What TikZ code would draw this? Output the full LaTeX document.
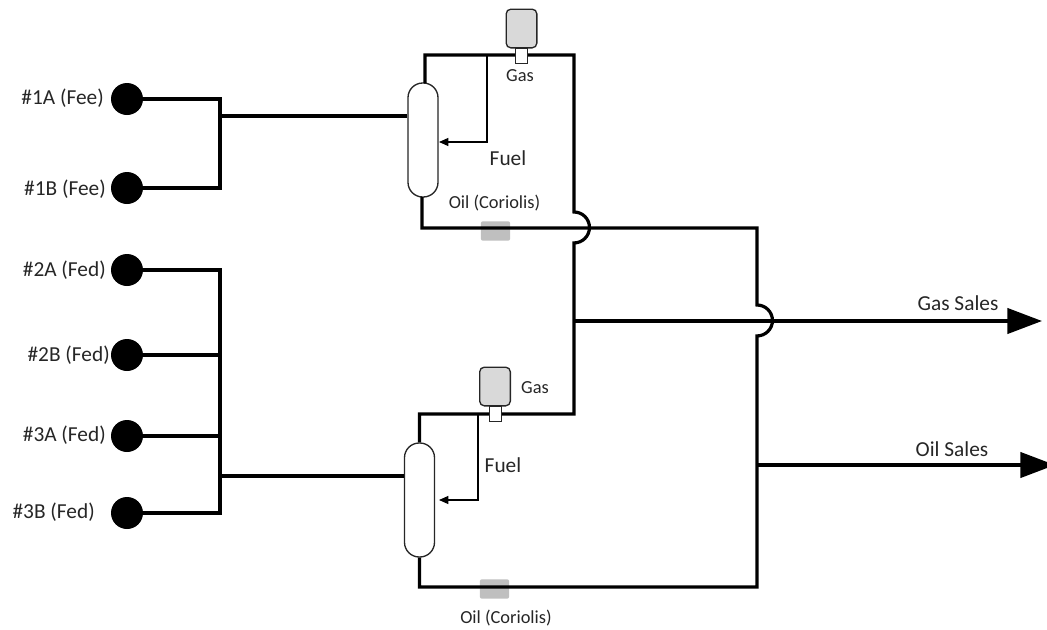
\documentclass[tikz,border=0pt]{standalone}
\usepackage{fontspec}
\setmainfont{Carlito}
\usepackage{tikz}
\usetikzlibrary{
    positioning,           % Relative positioning
    arrows.meta,           % Modern arrow tips
    backgrounds            % Background layers
}
\definecolor{GasGray}{RGB}{217, 217, 217}
\definecolor{MeterGray}{RGB}{191, 191, 191}
\definecolor{LabelBlack}{RGB}{38, 38, 38}
\tikzset{
    pipe/.style={line width=2.4pt, black},
    fuelline/.style={line width=0.9pt, black, -{Triangle[length=7pt, width=6pt]}},
    salesline/.style={line width=2.4pt, black, -{Triangle[length=26pt, width=19pt]}},
    wellhead/.style={circle, fill=black, inner sep=0pt, minimum size=24pt},
    vessel/.style={draw=black!85, line width=1pt, fill=white, rounded corners=11pt, inner sep=0pt, minimum width=22.5pt, minimum height=85.5pt},
    gasmeter/.style={draw=black!85, line width=1pt, fill=GasGray, rounded corners=3.5pt, inner sep=0pt, minimum width=23pt, minimum height=29pt},
    gasneck/.style={draw=black!85, line width=0.8pt, fill=white, inner sep=0pt, minimum width=9.5pt, minimum height=11pt},
    oilmeter/.style={fill=MeterGray, rounded corners=1.5pt, inner sep=0pt, minimum width=22pt, minimum height=14.5pt},
    lbl/.style={text=LabelBlack, inner sep=0pt, font=\fontsize{16}{18}\selectfont},
    smalllbl/.style={text=LabelBlack, inner sep=0pt, font=\fontsize{13.8}{16}\selectfont}
}

\begin{document}
\begin{tikzpicture}[x=0.75pt, y=-0.75pt]
    \useasboundingbox (0, 0) rectangle (1047, 629);

    % Wellheads
    \node[wellhead] (wellOneA) at (127, 99) {};
    \node[wellhead] (wellOneB) at (127, 188) {};
    \node[wellhead] (wellTwoA) at (127, 270) {};
    \node[wellhead] (wellTwoB) at (127, 355) {};
    \node[wellhead] (wellThreeA) at (127, 436) {};
    \node[wellhead] (wellThreeB) at (127, 513) {};
    \node[lbl, anchor=east] (lblOneA) at (104, 98) {\#1A (Fee)};
    \node[lbl, anchor=east] (lblOneB) at (106, 189) {\#1B (Fee)};
    \node[lbl, anchor=east] (lblTwoA) at (106, 270) {\#2A (Fed)};
    \node[lbl, anchor=east] (lblTwoB) at (110, 355) {\#2B (Fed)};
    \node[lbl, anchor=east] (lblThreeA) at (106, 435) {\#3A (Fed)};
    \node[lbl, anchor=east] (lblThreeB) at (95, 512) {\#3B (Fed)};

    % Meters under the oil lines
    \node[oilmeter] (oilMeterOne) at (495.5, 231) {};
    \node[oilmeter] (oilMeterTwo) at (494.5, 589) {};

    % Upper separator
    \node[vessel] (vesselOne) at (423, 140) {};
    \node[gasmeter] (gasMeterOne) at (521.5, 28.5) {};
    \node[gasneck] (gasNeckOne) at (521.5, 56) {};
    \node[smalllbl] (gasLblOne) at (520, 76) {Gas};
    \node[lbl] (fuelLblOne) at (508, 158) {Fuel};
    \node[smalllbl] (oilLblOne) at (494.5, 203) {Oil (Coriolis)};

    % Lower separator
    \node[vessel] (vesselTwo) at (419.5, 500) {};
    \node[gasmeter] (gasMeterTwo) at (495, 386.5) {};
    \node[gasneck] (gasNeckTwo) at (495.5, 414) {};
    \node[smalllbl] (gasLblTwo) at (535, 388) {Gas};
    \node[lbl] (fuelLblTwo) at (503, 465) {Fuel};
    \node[smalllbl] (oilLblTwo) at (506, 618) {Oil (Coriolis)};

    % Sales labels
    \node[lbl] (gasSalesLbl) at (958, 303) {Gas Sales};
    \node[lbl] (oilSalesLbl) at (952, 449) {Oil Sales};

    % Junctions and line ends
    \coordinate (headerOneTop) at (220, 99);
    \coordinate (headerOneBot) at (220, 188);
    \coordinate (headerOneOut) at (220, 116);
    \coordinate (headerTwoTop) at (220, 270);
    \coordinate (headerTwoMid) at (220, 355);
    \coordinate (headerTwoLow) at (218, 436);
    \coordinate (headerTwoBot) at (220, 513);
    \coordinate (headerTwoOut) at (220, 476);
    \coordinate (vesselOneTop) at (425, 83);
    \coordinate (vesselOneBot) at (422, 197);
    \coordinate (gasOneCorner) at (574, 55);
    \coordinate (gasOneHop) at (574, 212);
    \coordinate (gasTwoHop) at (574, 243);
    \coordinate (gasTie) at (575, 321);
    \coordinate (gasTwoCorner) at (574, 414);
    \coordinate (oilOneCorner) at (757, 228);
    \coordinate (oilHopTop) at (757, 305);
    \coordinate (oilHopBot) at (757, 337);
    \coordinate (oilTwoCorner) at (757, 587);
    \coordinate (oilTie) at (757, 465);
    \coordinate (gasSalesEnd) at (1042, 321);
    \coordinate (oilSalesEnd) at (1055, 465);
    \coordinate (fuelOneTap) at (487, 55);
    \coordinate (fuelOneIn) at (439, 142);
    \coordinate (fuelTwoTap) at (478, 414);
    \coordinate (fuelTwoIn) at (439, 500);

    % Inlet headers
    \draw[pipe] (wellOneA) -- (headerOneTop) -- (headerOneBot) -- (wellOneB);
    \draw[pipe] (headerOneOut) -- (headerOneOut -| vesselOne.west);
    \draw[pipe] (wellTwoA) -- (headerTwoTop) -- (headerTwoBot) -- (wellThreeB);
    \draw[pipe] (wellTwoB) -- (headerTwoMid);
    \draw[pipe] (wellThreeA) -- (headerTwoLow);
    \draw[pipe] (headerTwoOut) -- (headerTwoOut -| vesselTwo.west);

    % Gas side
    \draw[pipe] (vesselOneTop) |- (gasOneCorner) -- (gasOneHop)
        arc[start angle=90, end angle=-90, radius=11.6pt] -- (gasTwoCorner) -| (vesselTwo.north);
    \draw[pipe] (gasTie) -- (oilHopTop |- gasTie);
    \draw[salesline] (oilHopTop |- gasTie) -- (gasSalesEnd);

    % Oil side
    \draw[pipe] (vesselOneBot) |- (oilOneCorner) -- (oilHopTop)
        arc[start angle=90, end angle=-90, radius=11.6pt] -- (oilTwoCorner) -| (vesselTwo.south);
    \draw[salesline] (oilTie) -- (oilSalesEnd);

    % Fuel takeoffs
    \draw[fuelline] (fuelOneTap) |- (fuelOneIn);
    \draw[fuelline] (fuelTwoTap) |- (fuelTwoIn);

    % Necks sit over the gas lines
    \node[gasneck] at (gasNeckOne) {};
    \node[gasneck] at (gasNeckTwo) {};
\end{tikzpicture}
\end{document}
